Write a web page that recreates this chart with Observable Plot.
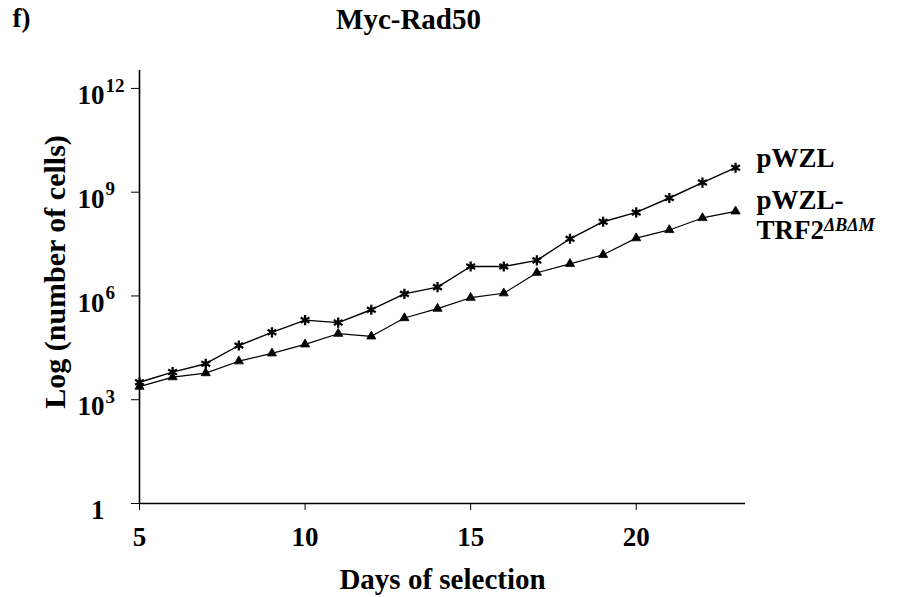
<!DOCTYPE html>
<html>
<head>
<meta charset="utf-8">
<script src="https://cdn.jsdelivr.net/npm/d3@7"></script>
<script src="https://cdn.jsdelivr.net/npm/@observablehq/plot@0.6"></script>
<style>
  html, body { margin: 0; padding: 0; background: #fff; }
  #chart { width: 900px; height: 597px; }
</style>
</head>
<body>
<div id="chart"></div>
<script>
// Data
const days = [5, 6, 7, 8, 9, 10, 11, 12, 13, 14, 15, 16, 17, 18, 19, 20, 21, 22, 23];
const pWZL = [3.2e3, 6.3e3, 1.1e4, 3.7e4, 8.9e4, 2.0e5, 1.7e5, 4.0e5, 1.15e6, 1.8e6, 7.1e6, 7.1e6, 1.07e7, 4.5e7, 1.4e8, 2.6e8, 6.8e8, 1.9e9, 5.1e9];
const pWZL_TRF2 = [2.4e3, 4.5e3, 5.9e3, 1.3e4, 2.2e4, 4.0e4, 8.1e4, 6.8e4, 2.3e5, 4.3e5, 8.9e5, 1.2e6, 4.7e6, 8.5e6, 1.55e7, 4.7e7, 8.1e7, 1.8e8, 2.8e8];
const xTicks = [5, 10, 15, 20];
const yTicks = [1, 1e3, 1e6, 1e9, 1e12];
const yTickBase = ["1", "10", "10", "10", "10"];
const yTickExp = ["", "3", "6", "9", "12"];
const seriesNames = ["pWZL", "pWZL-\nTRF2"];
const title = "Myc-Rad50";
const panel = "f)";
const xLabel = "Days of selection";
const yLabel = "Log (number of cells)";

const rowsA = days.map((d, i) => ({day: d, v: pWZL[i]}));
const rowsB = days.map((d, i) => ({day: d, v: pWZL_TRF2[i]}));
const last = days.length - 1;

const plot = Plot.plot({
  width: 900,
  height: 597,
  marginLeft: 139,
  marginRight: 155,
  marginTop: 70,
  marginBottom: 94,
  style: {fontFamily: "'Liberation Serif', 'Times New Roman', serif", fontWeight: "bold", fontSize: "27px", color: "#000", background: "#fff"},
  x: {domain: [5, 23.3], ticks: xTicks, tickSize: 7, tickPadding: 16, label: null},
  y: {type: "log", domain: [1, 3.3e12], ticks: yTicks, tickSize: 8, tickFormat: () => "", label: null},
  marks: [
    Plot.ruleX([5], {stroke: "#000", strokeWidth: 1.6}),
    Plot.ruleY([1], {stroke: "#000", strokeWidth: 1.6}),
    Plot.line(rowsA, {x: "day", y: "v", stroke: "#000", strokeWidth: 1.4}),
    Plot.line(rowsB, {x: "day", y: "v", stroke: "#000", strokeWidth: 1.2}),
    Plot.dot(rowsA, {x: "day", y: "v", symbol: "asterisk", r: 4.8, stroke: "#000", strokeWidth: 2.3}),
    Plot.dot(rowsB, {x: "day", y: "v", symbol: "triangle", r: 3.4, fill: "#000", stroke: "#000", strokeWidth: 0.8}),
    // y tick labels
    Plot.text(yTicks, {y: d => d, text: (d, i) => yTickBase[i], frameAnchor: "left", textAnchor: "end", dx: -35, dy: 7, fontSize: 27}),
    Plot.text(yTicks, {y: d => d, text: (d, i) => yTickExp[i], frameAnchor: "left", textAnchor: "start", dx: -34, dy: -3, fontSize: 19}),
    // series labels
    Plot.text([{day: days[last], v: pWZL[last]}], {x: "day", y: "v", text: () => seriesNames[0], textAnchor: "start", dx: 21, dy: -9, fontSize: 27}),
    Plot.text([{day: days[last], v: pWZL_TRF2[last]}], {x: "day", y: "v", text: () => seriesNames[1], textAnchor: "start", dx: 21, dy: 3, lineHeight: 1.1, fontSize: 27}),
    // titles
    Plot.text([title], {frameAnchor: "top", textAnchor: "middle", lineAnchor: "middle", dx: -34, dy: -51, fontSize: 29}),
    Plot.text([panel], {frameAnchor: "top-left", textAnchor: "start", lineAnchor: "middle", dx: -127, dy: -52, fontSize: 27}),
    Plot.text([xLabel], {frameAnchor: "bottom", textAnchor: "middle", lineAnchor: "middle", dy: 76, fontSize: 29}),
    Plot.text([yLabel], {frameAnchor: "left", textAnchor: "middle", lineAnchor: "middle", rotate: -90, dx: -84, dy: -15, fontSize: 30})
  ]
});

// superscript for the TRF2 label
d3.select(plot).selectAll("text").filter(function() { return this.textContent.includes("TRF2"); })
  .each(function() {
    const tspans = d3.select(this).selectAll("tspan");
    const lastLine = tspans.size() ? d3.select(tspans.nodes()[tspans.size() - 1]) : d3.select(this);
    lastLine.append("tspan").attr("dy", "-0.45em").attr("font-size", 18).attr("font-style", "italic").text("ΔBΔM");
  });

document.getElementById("chart").appendChild(plot);
</script>
</body>
</html>
